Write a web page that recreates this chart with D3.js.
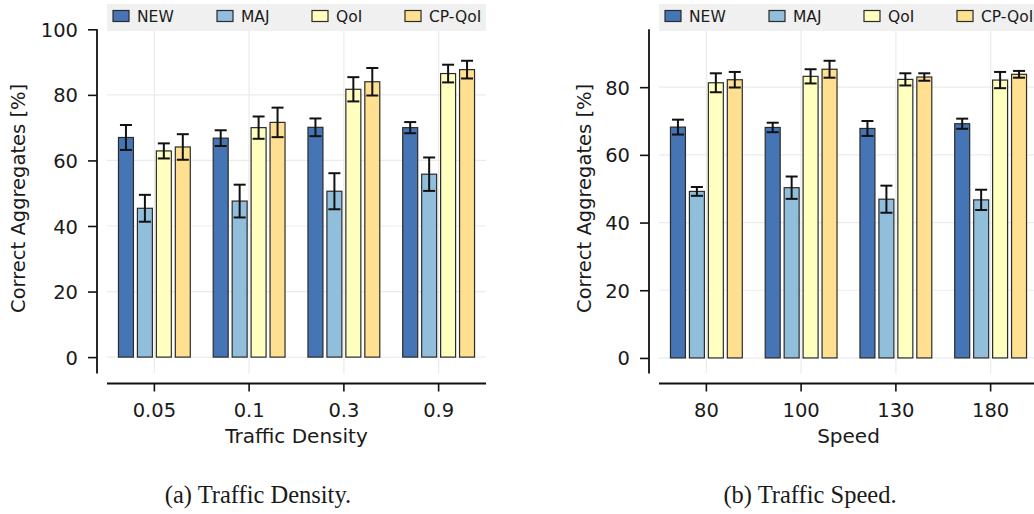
<!DOCTYPE html>
<html>
<head>
<meta charset="utf-8">
<script src="https://cdn.jsdelivr.net/npm/d3@7"></script>
<style>
  html, body { margin: 0; padding: 0; background: #fff; }
  svg { display: block; }
</style>
</head>
<body>
<svg id="chart" width="1034" height="514"></svg>
<script>
// ---- data ----
const seriesNames = ["NEW", "MAJ", "QoI", "CP-QoI"];
const seriesColors = ["#4575b4", "#91bfdb", "#ffffbf", "#fee090"];

const densityCategories = ["0.05", "0.1", "0.3", "0.9"];
const densityNEW   = [67.0, 66.8, 70.1, 70.0];
const densityMAJ   = [45.4, 47.6, 50.6, 55.8];
const densityQoI   = [62.9, 70.0, 81.7, 86.5];
const densityCPQoI = [64.1, 71.6, 84.0, 87.7];
const densityNEWErr   = [3.8, 2.4, 2.7, 1.7];
const densityMAJErr   = [4.1, 5.0, 5.5, 5.1];
const densityQoIErr   = [2.3, 3.4, 3.7, 2.7];
const densityCPQoIErr = [3.9, 4.5, 4.2, 2.7];

const speedCategories = ["80", "100", "130", "180"];
const speedNEW   = [68.2, 68.1, 67.8, 69.2];
const speedMAJ   = [49.2, 50.3, 46.9, 46.7];
const speedQoI   = [81.3, 83.2, 82.3, 82.1];
const speedCPQoI = [82.2, 85.3, 83.0, 83.8];
const speedNEWErr   = [2.2, 1.4, 2.2, 1.5];
const speedMAJErr   = [1.3, 3.3, 4.0, 3.0];
const speedQoIErr   = [2.8, 2.1, 1.8, 2.4];
const speedCPQoIErr = [2.3, 2.5, 1.1, 1.0];

const densityTicks = [0, 20, 40, 60, 80, 100];
const speedTicks = [0, 20, 40, 60, 80];

const yLabel = "Correct Aggregates [%]";

// ---- drawing ----
const svg = d3.select("#chart");
const SANS = "DejaVu Sans, sans-serif";
const SERIF = "Liberation Serif, serif";
const TXT = "#1a1a1a";

function panel(cfg) {
  const g = svg.append("g");
  const x = d3.scaleBand().domain(cfg.categories).range([cfg.left, cfg.right]).paddingInner(0).paddingOuter(0);
  const y = d3.scaleLinear().domain(cfg.ylim).range([cfg.bottom, cfg.top]);
  const sub = d3.scaleBand().domain(seriesNames).range([0, x.bandwidth() * 0.8]);
  const barW = sub.bandwidth() * 0.79;

  // gridlines
  const grid = g.append("g");
  grid.selectAll("line.h").data(cfg.ticks).join("line")
    .attr("x1", cfg.left).attr("x2", cfg.right)
    .attr("y1", d => y(d)).attr("y2", d => y(d))
    .attr("stroke", "#ebebeb").attr("stroke-width", 1.2);
  grid.selectAll("line.v").data(cfg.categories).join("line")
    .attr("x1", d => x(d) + x.bandwidth() / 2).attr("x2", d => x(d) + x.bandwidth() / 2)
    .attr("y1", cfg.top).attr("y2", cfg.bottom)
    .attr("stroke", "#ebebeb").attr("stroke-width", 1.2);

  // bars
  const rows = [];
  cfg.categories.forEach((c, i) => {
    seriesNames.forEach((s, j) => {
      rows.push({c, s, j, v: cfg.values[j][i], e: cfg.errors[j][i]});
    });
  });
  const groupOffset = x.bandwidth() * 0.1;
  const cx = d => x(d.c) + groupOffset + sub(d.s) + sub.bandwidth() / 2;

  g.append("g").selectAll("rect").data(rows).join("rect")
    .attr("x", d => cx(d) - barW / 2)
    .attr("width", barW)
    .attr("y", d => y(d.v))
    .attr("height", d => y(0) - y(d.v))
    .attr("fill", d => seriesColors[d.j])
    .attr("stroke", "#2b2b2b").attr("stroke-width", 1.2);

  const eb = g.append("g").attr("stroke", "#111").attr("stroke-width", 2).attr("fill", "none");
  eb.selectAll("line.stem").data(rows).join("line")
    .attr("x1", cx).attr("x2", cx)
    .attr("y1", d => y(d.v - d.e)).attr("y2", d => y(d.v + d.e));
  eb.selectAll("line.capT").data(rows).join("line")
    .attr("x1", d => cx(d) - 6).attr("x2", d => cx(d) + 6)
    .attr("y1", d => y(d.v + d.e)).attr("y2", d => y(d.v + d.e));
  eb.selectAll("line.capB").data(rows).join("line")
    .attr("x1", d => cx(d) - 6).attr("x2", d => cx(d) + 6)
    .attr("y1", d => y(d.v - d.e)).attr("y2", d => y(d.v - d.e));

  // y axis (offset spine)
  const yAxis = d3.axisLeft(y).tickValues(cfg.ticks).tickSize(9).tickPadding(10).tickFormat(d3.format("d"));
  const ya = g.append("g").attr("transform", `translate(${cfg.left - 10},0)`).call(yAxis);
  ya.select(".domain").attr("d", `M0,${cfg.top}V${cfg.bottom}`).attr("stroke", "#111").attr("stroke-width", 1.8);
  ya.selectAll(".tick line").attr("stroke", "#111").attr("stroke-width", 1.6);
  ya.selectAll(".tick text").attr("font-size", 19.5).attr("font-family", SANS).attr("fill", TXT).attr("dy", "0.36em");

  // x axis (offset spine)
  const xAxis = d3.axisBottom(x).tickSize(8).tickPadding(12);
  const xa = g.append("g").attr("transform", `translate(0,${cfg.bottom + 10})`).call(xAxis);
  xa.select(".domain").attr("d", `M${cfg.left},0H${cfg.right}`).attr("stroke", "#111").attr("stroke-width", 1.8);
  xa.selectAll(".tick line").attr("stroke", "#111").attr("stroke-width", 1.6);
  xa.selectAll(".tick text").attr("font-size", 19.5).attr("font-family", SANS).attr("fill", TXT).attr("dy", "0.71em");

  // axis labels
  g.append("text").attr("x", (cfg.left + cfg.right) / 2).attr("y", 442.5)
    .attr("text-anchor", "middle").attr("font-family", SANS).attr("fill", TXT)
    .attr("font-size", 20).text(cfg.xLabel);
  g.append("text")
    .attr("transform", `translate(${cfg.ylabelX},${(cfg.top + cfg.bottom) / 2 - 3}) rotate(-90)`)
    .attr("text-anchor", "middle").attr("font-family", SANS).attr("fill", TXT)
    .attr("font-size", 19.5).text(yLabel);

  // legend
  const lg = g.append("g");
  lg.append("rect").attr("x", cfg.left).attr("y", 4).attr("width", cfg.right - cfg.left).attr("height", 27)
    .attr("fill", "#f0f0f0");
  const offs = [6, 110, 205, 298];
  seriesNames.forEach((s, j) => {
    lg.append("rect").attr("x", cfg.left + offs[j]).attr("y", 10.5).attr("width", 16).attr("height", 11)
      .attr("fill", seriesColors[j]).attr("stroke", "#2b2b2b").attr("stroke-width", 1.2);
    lg.append("text").attr("x", cfg.left + offs[j] + 24).attr("y", 21.8)
      .attr("font-family", SANS).attr("fill", TXT)
      .attr("font-size", 15.5).text(s);
  });

  // caption
  svg.append("text").attr("x", cfg.captionX).attr("y", 503)
    .attr("text-anchor", "middle").attr("font-family", SERIF).attr("fill", TXT).attr("font-size", 24.5)
    .text(cfg.caption);
}

panel({
  categories: densityCategories,
  values: [densityNEW, densityMAJ, densityQoI, densityCPQoI],
  errors: [densityNEWErr, densityMAJErr, densityQoIErr, densityCPQoIErr],
  ticks: densityTicks, ylim: [-5, 100],
  left: 107, right: 486, top: 29.3, bottom: 373.5,
  xLabel: "Traffic Density", ylabelX: 25,
  caption: "(a) Traffic Density.", captionX: 258
});

panel({
  categories: speedCategories,
  values: [speedNEW, speedMAJ, speedQoI, speedCPQoI],
  errors: [speedNEWErr, speedMAJErr, speedQoIErr, speedCPQoIErr],
  ticks: speedTicks, ylim: [-4.6, 97.1],
  left: 659, right: 1038, top: 29.3, bottom: 373.5,
  xLabel: "Speed", ylabelX: 591,
  caption: "(b) Traffic Speed.", captionX: 810
});
</script>
</body>
</html>
